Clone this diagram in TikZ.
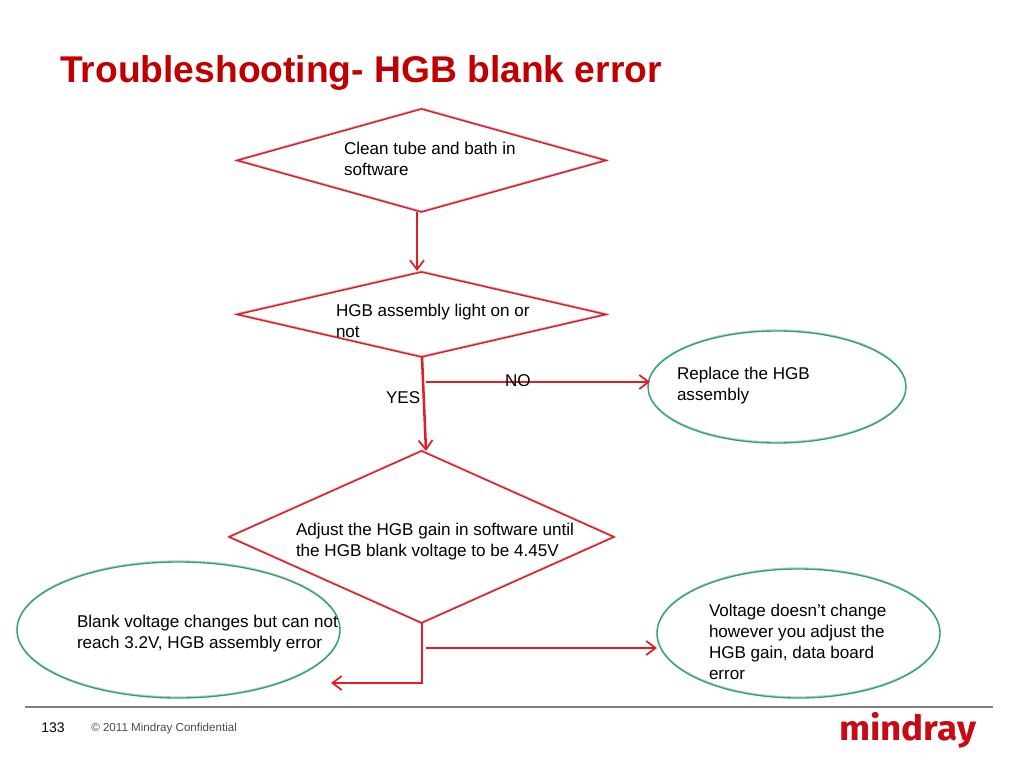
\documentclass[tikz,border=0pt]{standalone}
\usepackage{fontspec}
\setmainfont{Liberation Sans}
\newfontfamily\logofont{Fira Sans}
\usetikzlibrary{shapes.geometric,arrows.meta}
\definecolor{flowred}{RGB}{228,28,38}
\definecolor{ovalgreen}{RGB}{40,165,110}
\definecolor{titlered}{RGB}{192,0,0}
\definecolor{logored}{RGB}{200,10,20}
\tikzset{
  x=0.75pt,y=-0.75pt,
  edgeshade/.style={preaction={draw=black!22,line width=0.9pt,transform canvas={yshift=0.8pt}}},
  decision/.style={diamond,draw=flowred,line width=1.15pt,inner sep=0pt,outer sep=0pt,edgeshade},
  outcome/.style={ellipse,draw=ovalgreen,line width=1pt,inner sep=0pt,outer sep=0pt,edgeshade},
  label/.style={inner sep=0pt,outer sep=0pt,anchor=north west,align=left,font=\fontsize{12.8}{15.75}\selectfont},
  flow/.style={draw=flowred,line width=1.9pt,-{Straight Barb[length=7pt,width=10.5pt,line width=1.3pt]}},
}
\begin{document}
\begin{tikzpicture}
\useasboundingbox[fill=white] (0,0) rectangle (1024,767);
% shapes
\node[decision,aspect=3.58,minimum width=276.75pt,minimum height=77.25pt] (d1) at (421.5,160.5) {};
\node[decision,aspect=4.34,minimum width=276.75pt,minimum height=63.75pt] (d2) at (421.5,314.5) {};
\node[decision,aspect=2.24,minimum width=288.75pt,minimum height=129pt] (d3) at (421.5,537) {};
\node[outcome,minimum width=193.5pt,minimum height=84pt] (e1) at (777,387) {};
\node[outcome,minimum width=242.25pt,minimum height=102pt] (e2) at (178.5,630) {};
\node[outcome,minimum width=212.25pt,minimum height=96.75pt] (e3) at (798.5,633.5) {};
% texts
\node[label] (t1) at (344,142) {Clean tube and bath in\\software};
\node[label] (t2) at (336,304) {HGB assembly light on or\\not};
\node[label] (t3) at (677,367) {Replace the HGB\\assembly};
\node[label] (t4) at (296,523) {Adjust the HGB gain in software until\\the HGB blank voltage to be 4.45V};
\node[label] (t5) at (77,615) {Blank voltage changes but can not\\reach 3.2V, HGB assembly error};
\node[label] (t6) at (709,604) {Voltage doesn’t change\\however you adjust the\\HGB gain, data board\\error};
% connectors
\coordinate (c1) at (417,212);
\coordinate (c2) at (417,271);
\coordinate (c3) at (422,357);
\coordinate (c4) at (426,451);
\coordinate (c5) at (426,382);
\coordinate (c6) at (650,382);
\coordinate (c7) at (422,623);
\coordinate (c8) at (422,683);
\coordinate (c9) at (331,683);
\coordinate (c10) at (426,648);
\coordinate (c11) at (657,648);
\draw[flow] (c1) -- (c2);
\draw[flow] (c3) -- (c4);
\draw[flow] (c5) -- (c6);
\draw[flow] (c7) -- (c8) -- (c9);
\draw[flow] (c10) -- (c11);
\node[label] (no) at (505,375) {NO};
\node[label] (yes) at (386,392) {YES};
% title
\node[inner sep=0pt,anchor=base west,text=titlered,font=\fontsize{27.9}{32}\selectfont\bfseries] (title) at (60,83) {Troubleshooting- HGB blank error};
% footer
\coordinate (f1) at (25,707);
\coordinate (f2) at (993,707);
\draw[gray,line width=0.8pt] (f1) -- (f2);
\node[inner sep=0pt,anchor=base west,font=\fontsize{10.5}{12}\selectfont] (page) at (41,732) {133};
\node[inner sep=0pt,anchor=base west,text=black!70,font=\fontsize{8.7}{10}\selectfont] (conf) at (91,731) {© 2011 Mindray Confidential};
\node[inner sep=0pt,anchor=base west,text=logored,xscale=1.06,font=\logofont\bfseries\fontsize{26}{28}\selectfont] (logo) at (839,740) {mindray};
\end{tikzpicture}
\end{document}
